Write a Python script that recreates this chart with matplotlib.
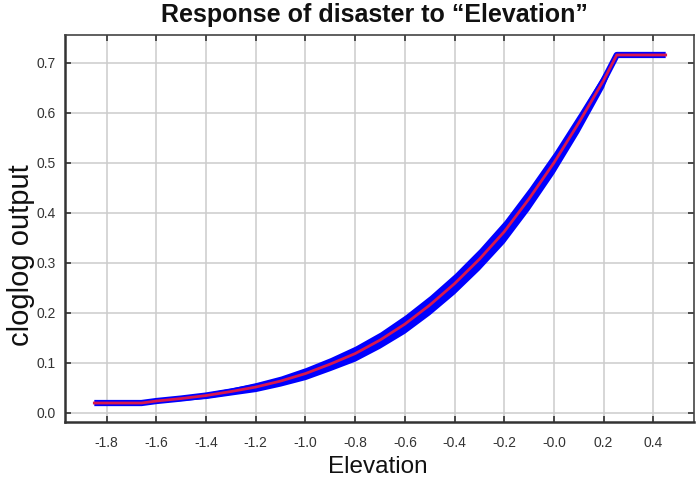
import matplotlib
matplotlib.use("Agg")
import matplotlib.pyplot as plt
import numpy as np

plt.rcParams['font.family'] = ['Liberation Sans', 'DejaVu Sans']

# Data
elevation = [-1.85, -1.66, -1.6, -1.5, -1.4, -1.3, -1.2, -1.1, -1.0, -0.9, -0.8, -0.7,
             -0.6, -0.5, -0.4, -0.3, -0.2, -0.1, 0.0, 0.1, 0.2, 0.253, 0.45]
response = [0.019, 0.019, 0.023, 0.028, 0.034, 0.042, 0.051, 0.063, 0.078, 0.097, 0.118, 0.145,
            0.177, 0.215, 0.258, 0.307, 0.362, 0.428, 0.500, 0.580, 0.665, 0.716, 0.716]
spread = [0.001, 0.001, 0.003, 0.004, 0.006, 0.007, 0.009, 0.010, 0.012, 0.013, 0.015, 0.016,
          0.018, 0.019, 0.020, 0.021, 0.022, 0.022, 0.021, 0.019, 0.014, 0.0, 0.0]

xticks = [-1.8, -1.6, -1.4, -1.2, -1.0, -0.8, -0.6, -0.4, -0.2, 0.0, 0.2, 0.4]
xticklabels = ["-1.8", "-1.6", "-1.4", "-1.2", "-1.0", "-0.8", "-0.6", "-0.4", "-0.2", "-0.0", "0.2", "0.4"]
yticks = [0.0, 0.1, 0.2, 0.3, 0.4, 0.5, 0.6, 0.7]
yticklabels = ["0.0", "0.1", "0.2", "0.3", "0.4", "0.5", "0.6", "0.7"]

x = np.array(elevation)
y = np.array(response)
s = np.array(spread)

W, H = 697, 482
fig = plt.figure(figsize=(W / 100, H / 100), dpi=100)
ax = fig.add_axes([65 / W, 1 - 422 / H, (694 - 65) / W, (422 - 35) / H])

ax.fill_between(x, y - s, y + s, color='#0000ff', linewidth=0, zorder=3)
ax.plot(x, y, color='#0000ff', linewidth=4.5, solid_capstyle='butt', zorder=3)
ax.plot(x, y, color='#d8184e', linewidth=2.0, zorder=4)

ax.set_xlim(-1.968, 0.564)
ax.set_ylim(-0.019, 0.756)
ax.set_xticks(xticks)
ax.set_xticklabels(xticklabels)
ax.set_yticks(yticks)
ax.set_yticklabels(yticklabels)

ax.grid(True, color='#cccccc', linewidth=1.1)
ax.set_axisbelow(True)
ax.tick_params(direction='in', length=4, width=1.2, colors='#333333', labelsize=10,
               top=True, right=True, labelcolor='#333333')
ax.tick_params(axis='y', pad=6.5)
ax.tick_params(axis='x', pad=10)
for side in ['left', 'bottom']:
    ax.spines[side].set_linewidth(1.8)
    ax.spines[side].set_color('#333333')
for side in ['top', 'right']:
    ax.spines[side].set_linewidth(1.2)
    ax.spines[side].set_color('#444444')

fig.text(374 / W, 1 - 15 / H, 'Response of disaster to \u201cElevation\u201d', ha='center', va='center',
         fontsize=18, fontweight='bold', color='#111111')
fig.text(378 / W, 1 - 467 / H, 'Elevation', ha='center', va='center', fontsize=17.5, color='#111111')
fig.text(21 / W, 1 - 255 / H, 'cloglog output', ha='center', va='center', rotation=90,
         fontsize=21, color='#111111')

fig.savefig('out.png', dpi=100)
